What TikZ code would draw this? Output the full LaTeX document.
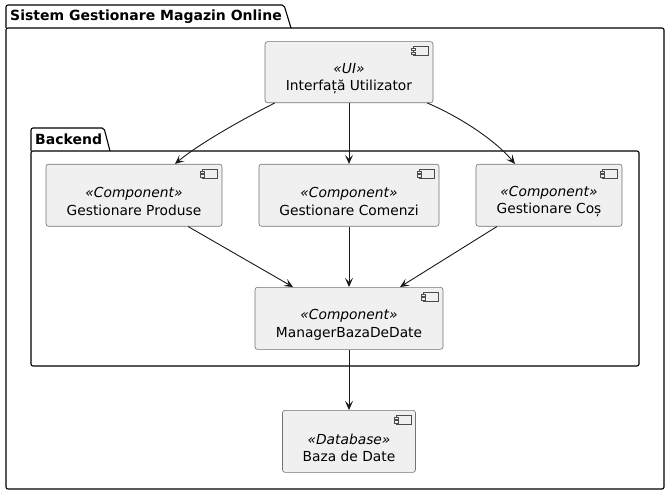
\documentclass[tikz,border=0pt]{standalone}
\usepackage{fontspec}
\setmainfont{DejaVu Sans}
\usetikzlibrary{arrows.meta,calc}
\tikzset{
  comp/.style={draw=black!55, fill=black!6, line width=0.6pt, rounded corners=2.5pt, inner sep=0pt},
  ctext/.style={font=\fontsize{13.8}{17.5}\selectfont, align=center, inner sep=0pt},
  pkg/.style={draw=black, line width=1.1pt, rounded corners=2pt},
  ptitle/.style={font=\fontsize{14}{16}\selectfont\bfseries, anchor=west, inner sep=0pt},
  icon/.style={draw=black!70, line width=0.5pt, fill=black!6},
  conn/.style={draw=black!90, line width=0.9pt, -{Stealth[length=9pt,width=8pt,inset=4pt]}}
}
\newcommand\mycomp[6]{%
  \node[comp, minimum width=#3, minimum height=#4] (#1) at (#2) {};
  \node[ctext] (#1-t) at ($(#1.center)+(0,6.5)$) {\textit{«#5»}\\#6};
  \draw[icon] ($(#1.north east)+(-20,5)$) rectangle ($(#1.north east)+(-5,14)$);
  \draw[icon] ($(#1.north east)+(-22,7)$) rectangle ($(#1.north east)+(-18,9.3)$);
  \draw[icon] ($(#1.north east)+(-22,10.7)$) rectangle ($(#1.north east)+(-18,13)$);
}
\begin{document}
\begin{tikzpicture}[x=1pt,y=-1pt]
\useasboundingbox (0,0) rectangle (669,495);
% outer package
\draw[pkg] (6,28) -- (6,5) -- (284,5) -- (291,28);
\draw[pkg] (6,28) rectangle (664,489);
\node[ptitle] (outer) at (10,16.5) {Sistem Gestionare Magazin Online};
% backend package
\draw[pkg] (31,151) -- (31,128) -- (104,128) -- (110,151);
\draw[pkg] (31,151) rectangle (639,366);
\node[ptitle] (backend) at (35,139.5) {Backend};
% components
\mycomp{ui}{349,72.2}{168pt}{61pt}{UI}{Interfață Utilizator}
\mycomp{gp}{134,195.2}{176pt}{62pt}{Component}{Gestionare Produse}
\mycomp{gc}{349,195.2}{180pt}{62pt}{Component}{Gestionare Comenzi}
\mycomp{gcos}{549,195.2}{146pt}{62pt}{Component}{Gestionare Coș}
\mycomp{mgr}{349,318.3}{188pt}{62pt}{Component}{ManagerBazaDeDate}
\mycomp{db}{349,441.3}{133pt}{62pt}{Database}{Baza de Date}
% connectors
\draw[conn] ($(ui.south west)+(10,0)$) .. controls (245,118) and (200,143) .. ($(gp.north)+(41,0)$);
\draw[conn] (ui.south) -- (gc.north);
\draw[conn] ($(ui.south east)+(-6,0)$) .. controls (460,117) and (495,140) .. ($(gcos.north)+(-34,0)$);
\draw[conn] ($(gp.south)+(54,0)$) -- ($(mgr.north)+(-56,0)$);
\draw[conn] (gc.south) -- (mgr.north);
\draw[conn] ($(gcos.south)+(-52,0)$) -- ($(mgr.north)+(51,0)$);
\draw[conn] (mgr.south) -- (db.north);
\end{tikzpicture}
\end{document}
